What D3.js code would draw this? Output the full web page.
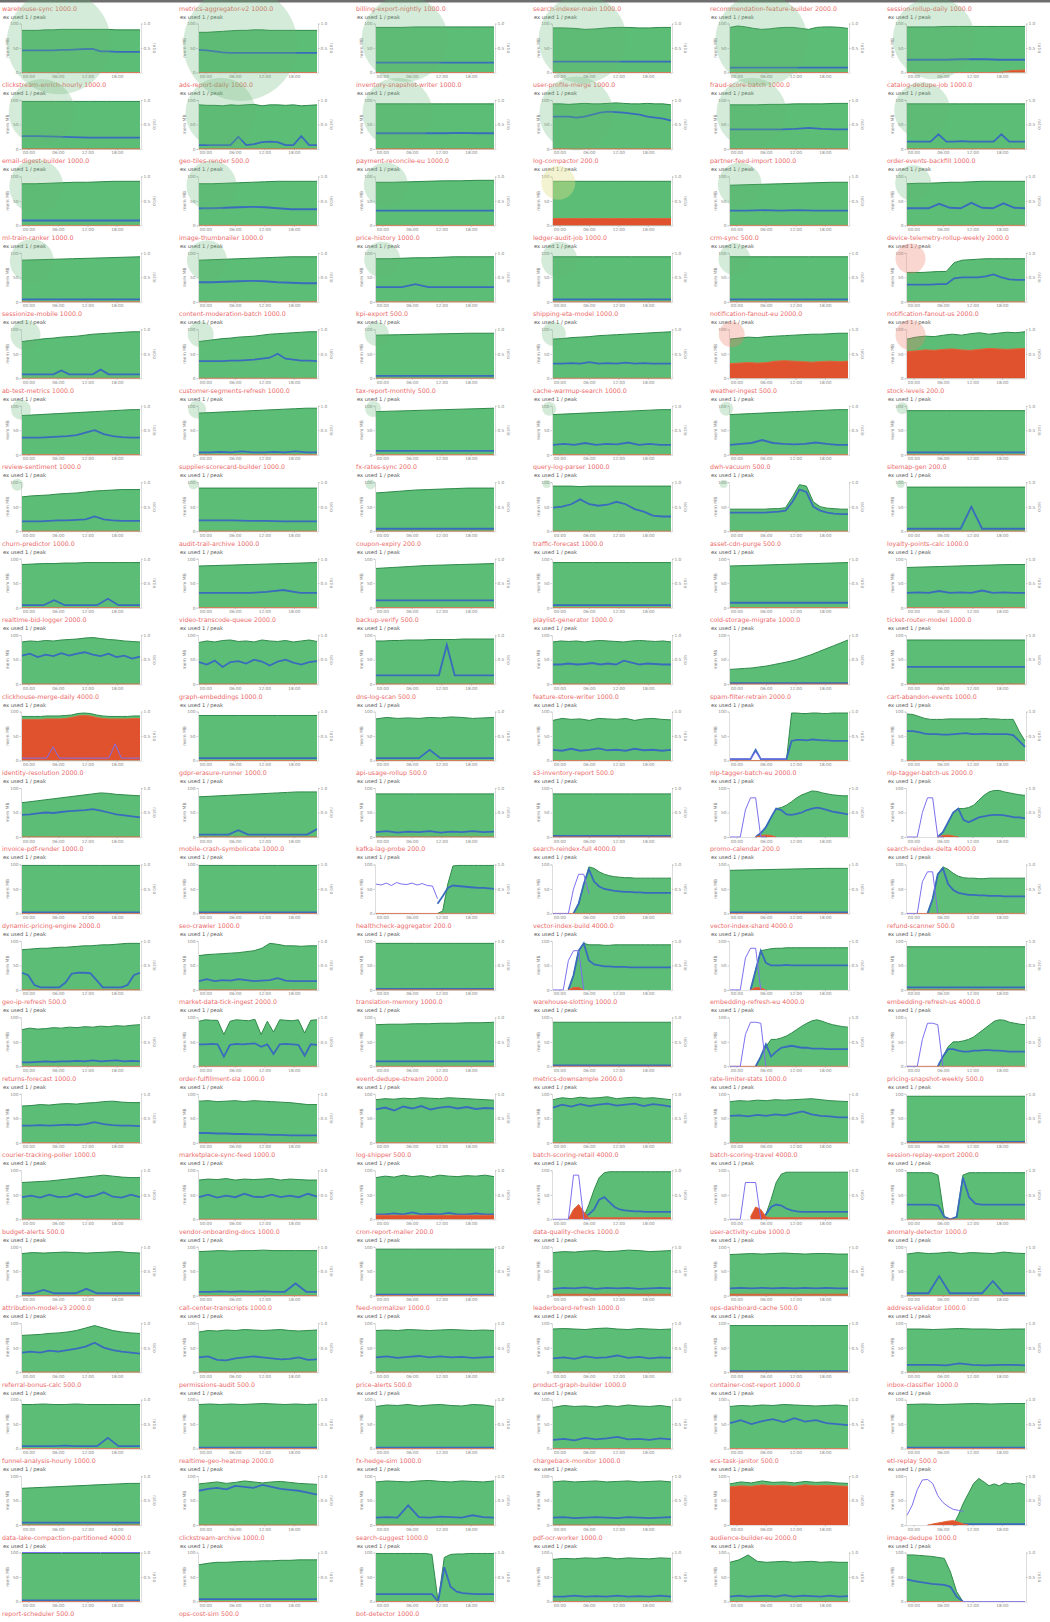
<!DOCTYPE html>
<html><head><meta charset="utf-8">
<script src="https://cdn.jsdelivr.net/npm/d3@7"></script>
<style>body{margin:0;background:#fff}svg{display:block}</style>
</head><body><svg id="c" width="1050" height="1622"></svg>
<script>
const titles = [
"warehouse-sync 1000.0","metrics-aggregator-v2 1000.0","billing-export-nightly 1000.0","search-indexer-main 1000.0","recommendation-feature-builder 2000.0","session-rollup-daily 1000.0",
"clickstream-enrich-hourly 1000.0","ads-report-daily 1000.0","inventory-snapshot-writer 1000.0","user-profile-merge 1000.0","fraud-score-batch 1000.0","catalog-dedupe-job 1000.0",
"email-digest-builder 1000.0","geo-tiles-render 500.0","payment-reconcile-eu 1000.0","log-compactor 200.0","partner-feed-import 1000.0","order-events-backfill 1000.0",
"ml-train-ranker 1000.0","image-thumbnailer 1000.0","price-history 1000.0","ledger-audit-job 1000.0","crm-sync 500.0","device-telemetry-rollup-weekly 2000.0",
"sessionize-mobile 1000.0","content-moderation-batch 1000.0","kpi-export 500.0","shipping-eta-model 1000.0","notification-fanout-eu 2000.0","notification-fanout-us 2000.0",
"ab-test-metrics 1000.0","customer-segments-refresh 1000.0","tax-report-monthly 500.0","cache-warmup-search 1000.0","weather-ingest 500.0","stock-levels 200.0",
"review-sentiment 1000.0","supplier-scorecard-builder 1000.0","fx-rates-sync 200.0","query-log-parser 1000.0","dwh-vacuum 500.0","sitemap-gen 200.0",
"churn-predictor 1000.0","audit-trail-archive 1000.0","coupon-expiry 200.0","traffic-forecast 1000.0","asset-cdn-purge 500.0","loyalty-points-calc 1000.0",
"realtime-bid-logger 2000.0","video-transcode-queue 2000.0","backup-verify 500.0","playlist-generator 1000.0","cold-storage-migrate 1000.0","ticket-router-model 1000.0",
"clickhouse-merge-daily 4000.0","graph-embeddings 1000.0","dns-log-scan 500.0","feature-store-writer 1000.0","spam-filter-retrain 2000.0","cart-abandon-events 1000.0",
"identity-resolution 2000.0","gdpr-erasure-runner 1000.0","api-usage-rollup 500.0","s3-inventory-report 500.0","nlp-tagger-batch-eu 2000.0","nlp-tagger-batch-us 2000.0",
"invoice-pdf-render 1000.0","mobile-crash-symbolicate 1000.0","kafka-lag-probe 200.0","search-reindex-full 4000.0","promo-calendar 200.0","search-reindex-delta 4000.0",
"dynamic-pricing-engine 2000.0","seo-crawler 1000.0","healthcheck-aggregator 200.0","vector-index-build 4000.0","vector-index-shard 4000.0","refund-scanner 500.0",
"geo-ip-refresh 500.0","market-data-tick-ingest 2000.0","translation-memory 1000.0","warehouse-slotting 1000.0","embedding-refresh-eu 4000.0","embedding-refresh-us 4000.0",
"returns-forecast 1000.0","order-fulfillment-sla 1000.0","event-dedupe-stream 2000.0","metrics-downsample 2000.0","rate-limiter-stats 1000.0","pricing-snapshot-weekly 500.0",
"courier-tracking-poller 1000.0","marketplace-sync-feed 1000.0","log-shipper 500.0","batch-scoring-retail 4000.0","batch-scoring-travel 4000.0","session-replay-export 2000.0",
"budget-alerts 500.0","vendor-onboarding-docs 1000.0","cron-report-mailer 200.0","data-quality-checks 1000.0","user-activity-cube 1000.0","anomaly-detector 1000.0",
"attribution-model-v3 2000.0","call-center-transcripts 1000.0","feed-normalizer 1000.0","leaderboard-refresh 1000.0","ops-dashboard-cache 500.0","address-validator 1000.0",
"referral-bonus-calc 500.0","permissions-audit 500.0","price-alerts 500.0","product-graph-builder 1000.0","container-cost-report 1000.0","inbox-classifier 1000.0",
"funnel-analysis-hourly 1000.0","realtime-geo-heatmap 2000.0","fx-hedge-sim 1000.0","chargeback-monitor 1000.0","ecs-task-janitor 500.0","etl-replay 500.0",
"data-lake-compaction-partitioned 4000.0","clickstream-archive 1000.0","search-suggest 1000.0","pdf-ocr-worker 1000.0","audience-builder-eu 2000.0","image-dedupe 1000.0",
"report-scheduler 500.0","ops-cost-sim 500.0","bot-detector 1000.0"
];
const subtitle = "ex used 1 / peak";
const timeTickHours = [0, 6, 12, 18];
const timeTickLabels = ["00:00", "06:00", "12:00", "18:00"];
const seriesStartHour = -1.3, seriesEndHour = 22.7;
const leftAxisLabel = "mem MB", rightAxisLabel = "ratio";

const _ = null;
// green: allocated (percent of panel max)
const greens = [
// row 1
[86,86,86,87,87,88,88,88,88,88,88,88,87,87,87,87],[82,82,83,84,85,86,86,87,87,86,86,86,86,86,86,86],[92,92,92,93,93,93,93,93,93,93],[91,91,90,88,89,91,92,92,91,91,92,92],[92,95,93,90,88,89,91,92,92,90,88,92,93,93,92,90],[93,93,93,94,94,94,94,94,94,94],
// row 2
[97,97,97,97,97,97,97,97],[90,89,89,88,90,89,90,91,88,90,90,89,90,88,89,90],[92,92,92,92,92,92,92,92],[92,92,91,92,93,92,92,93,94,93,92,92,93,92,92,90],[90,90,90,91,91,92,92,92,93,93],[92,92,92,92,92,92,92,92,92,92],
// row 3
[85,85,86,87,88,88,89,90,90,90],[85,85,86,87,88,89,90,90,90,90],[88,88,89,90,91,91,92,92],[90,90,90,90,90,90,90,90],[82,83,84,85,86,87,88,88],[85,86,86,87,88,88,89,90,90,90,90,90],
// row 4
[85,86,87,88,89,90,91,92],[85,86,87,88,89,90,91,92,92,92],[88,88,89,90,90,91,92,92,92,92],[92,92,92,92],[92,92,92,92],[60,60,60,61,62,62,80,85,86,87,88,88,88,88,88,88],
// row 5
[75,77,79,81,82,84,85,86,88,90,91,92,93,94,95,95],[75,77,79,81,82,84,85,86,88,90,91,92,93,94,95,95],[88,89,90,91,92,92],[80,81,83,84,85,87,88,89,90,91,92,93,94,95],[80,82,84,83,85,86,87,88,89,90,90,91,92,92],[80,84,86,85,88,90,88,91,93,90,92,94,93,95],
// row 6
[80,81,82,83,84,85,86,87,88,89,90,91,92,92],[85,86,87,88,89,90,91,92,93,94,95,95],[88,89,90,91,92,93,94,95],[82,83,84,85,86,87,88,89,90,91,92,92],[82,83,84,85,86,87,88,89,90,91,92,92],[90,90,90,90],
// row 7
[70,72,73,74,76,77,78,80,82,83,84,85,85,85],[88,88,88,88,88,88,88,88],[78,80,82,84,85,86,87,88,88,88],[92,92,92,91,92,92,92,92,92,92,92,92,92,92],[45,45,45,45,45,45,46,46,48,70,95,92,60,50,47,46,45,45],[90,90,90,90,90,90,90,90,90,90,90,90],
// row 8
[88,89,90,90,91,91,92,92,92,92,92,92],[85,86,87,88,89,90,91,92],[80,82,84,86,87,88,89,90],[92,92,92,92],[85,86,87,88,89,90,91,92],[82,83,84,85,86,87,88,88],
// row 9
[86,88,87,89,88,90,91,92,94,95,93,91,90,88,87,86],[85,88,86,89,90,87,88,86,90,88,87,89,86,88,90,87],[88,88,89,89,90,90,90,91,91,91,91,92,92,92,92,92],[86,88,87,88,86,88,89,88,87,86,88,89,88,87,88,86],[30,31,32,33,35,37,40,43,46,50,55,60,66,72,78,84,90],[90,90,90,90],
// row 10
[90,90,90,90,91,91,91,92,93,96,97,96,93,91,90,90,90,90,91,91],[92,92,92,92],[85,88,86,87,86,88,87,89,88,86,87,88],[82,86,84,85,82,86,85,84,86,82,85,86,84,83],[_,_,_,_,_,_,_,_,_,_,_,0,97,97,96,96,97,97,96,96,97,97,97,97],[95,94,90,86,84,84,84,85,85,85,85,85,85,86,85,85,84,84,84,60,40],
// row 11
[70,72,74,76,78,80,82,84,86,88,90,89,87,86,85,84],[82,83,84,85,86,87,88,89,90,91,92,92,92],[88,88,88,88],[88,88,88,88],[_,_,_,_,_,0,8,20,40,58,60,65,72,80,86,90,94,93,90,88,86,85,84,84],[_,_,_,_,_,_,0,10,30,50,58,58,60,65,75,85,92,95,95,92,90,88,86,85],
// row 12
[98,98,98,98],[98,98,98,98],[_,_,_,_,_,_,_,_,_,_,_,_,0,5,60,97,98,98,98,98,98,98,98,98],[_,_,_,_,0,20,60,95,92,85,80,77,75,74,73,73,72,72,72,72,72,72,72,72],[88,89,90,91,92,92],[_,_,_,_,0,30,80,95,90,82,76,73,72,72,71,71,72,72,72,72,72,72,72,72],
// row 13
[82,83,84,85,85,86,87,87,88,89,90,90,91,92,92,93,94,95,95,95],[70,72,73,74,75,76,78,80,85,95,93,90,90,89,90,90],[95,95,95,95],[_,_,_,0,30,80,95,92,92,92,91,91,92,92,92,92,92,92,92,92,92,92,92,92],[_,_,_,_,0,40,80,82,84,85,85,86,86,86,86,86,86,86,86,86,86,86,86,86],[88,88,88,88],
// row 14
[75,78,76,77,79,78,80,79,81,80,82,81,83,82,84,85],[92,95,94,94,65,92,95,94,93,96,65,92,70,95,94,93,95,68,94,95],[85,86,86,87,87,88,88,89,89,90],[90,90,90,90],[_,_,_,_,_,0,20,40,55,55,58,62,68,75,82,88,93,95,92,88,85,83,81,80],[_,_,_,_,_,_,0,20,40,50,50,52,55,60,68,76,84,92,95,94,90,88,86,85],
// row 15
[75,76,78,77,79,80,79,81,82,84,85,83,82,82],[85,86,84,85,86,84,86,85,84,83,82,80,78,78],[88,90,89,91,90,92,91,90,92,91,90,89,88,87],[88,92,90,93,91,92,94,90,92,93,91,92,90,88],[84,86,85,87,86,88,87,88,89,90,88,86,85,84],[95,95,95,95],
// row 16
[75,76,77,78,80,82,84,86,88,90,88,86,85,85],[80,82,81,83,80,82,81,82,83,80,82,81,80,80],[85,88,86,90,87,89,86,90,88,87,89,88,90,87],[_,_,_,_,_,_,5,30,60,85,95,97,97,97,97,97,97,97,97,97,97,97,97,97],[_,_,_,_,_,_,0,10,40,75,92,96,96,96,96,96,96,96,96,96,96,96,96,96],[95,95,95,95,95,90,5,0,5,90,95,95,95,95,95,95,95,95,95,95],
// row 17
[86,88,87,88,89,88,87,88,89,90,88,87],[90,91,92,91,92,92,93,92,92,92,92,92],[95,95,95,95],[88,90,89,91,92,90,91,93,92,90,91,92],[84,85,86,85,86,87,86,85,86,86,85,85],[85,88,86,87,89,86,88,87,86,89,87,86],
// row 18
[75,76,77,79,80,82,85,90,95,90,85,82,80,79],[82,85,84,86,85,87,86,85,86,87,85,84,85,86],[85,86,85,87,86,85,86,87,86,85,86,85],[88,89,88,87,89,90,88,87,89,88,87,88],[95,95,95,95],[88,88,87,88,89,88,88,87,88,88],
// row 19
[90,90,91,90,90,91,90,90,90,90,90,90],[90,91,90,91,90,91,92,91,90,91,90,91],[86,89,88,90,87,89,90,88,87,90,89,86],[84,88,86,87,85,88,86,89,87,86,88,85],[86,88,87,89,88,90,89,88,87,88,89,87],[90,91,90,91,92,91,92,92],
// row 20
[75,76,77,78,79,80,81,82,83,84,85,85],[84,86,88,85,87,90,88,86,88,89,87,85,84,83],[88,90,89,88,90,91,89,88,90,89,88,90],[88,90,88,89,90,88,89,90,88,89,90,88],[84,88,86,90,87,88,86,89,87,88,86,85],[_,_,_,_,_,_,_,_,_,0,20,45,65,85,95,88,80,84,80,86,84,85,86,82],
// row 21
[98,98,98,98],[75,78,80,80,81,82,82,83,83,84,84,85,85,85],[98,98,98,98,98,98,98,98,98,96,0,90,96,97,97,98,98,98,98,98],[86,88,87,89,88,90,87,89,88,87,89,88],[80,85,95,82,80,81,82,80,81,82,80,81,80,80],[95,95,94,93,92,90,88,60,20,0,_,_,_,_,_,_,_,_,_,_]
];
// blue: used
const blues = [
// row 1
[45,45,45,45,45,46,46,47,48,48,43,43,42,42,42,42],[46,45,43,41,40,40,40,40,40,40,40,40,40,40,40,40],[20,20,20,20,20,20,20,20,20,20],[22,22,22,22,22,22,22,22,22,22,22,22],[10,10,10,10,10,10,10,10,10,10,10,10],[26,26,26,26,27,27,27,26,26,26],
// row 2
[26,26,25,24,23,23,23,23],[8,8,8,8,8,25,8,10,14,15,14,8,8,26,8,8],[32,32,32,32,32,33,32,32],[66,66,66,64,66,70,74,76,75,74,72,70,66,64,62,58],[40,40,40,40,40,41,43,41,40,40],[15,15,15,15,30,15,15,16,15,15,15,15,30,15,15,15],
// row 3
[10,10,10,10,10,10,10,10,10,10],[35,35,36,37,38,37,35,33,33,33],[30,30,30,30,30,30,30,30],[13,13,13,13,13,13,13,13],[30,30,31,30,31,30,30,30],[35,35,35,44,36,35,46,36,35,45,36,35],
// row 4
[5,5,5,5,5,5,5,5],[40,40,41,42,43,42,40,39,38,38],[30,30,30,36,30,30,30,30,30,30],[5,5,5,5],[5,5,5,5],[35,35,35,35,36,36,48,50,50,50,52,56,50,46,45,45],
// row 5
[8,8,8,8,8,16,8,8,8,8,18,8,8,8,8,8],[35,35,35,35,36,36,37,38,40,42,50,40,38,36,36,35],[5,5,5,5,5,5],[30,30,31,30,33,30,31,30,32,30,31,30,30,30],[4,4,4,4],[4,4,4,4],
// row 6
[35,35,35,36,37,38,40,45,50,42,38,36,35,35],[5,5,6,5,7,5,5,6,5,7,5,5],[8,8,8,8,8,8,8,8],[20,22,20,24,20,22,21,25,20,22,20,20],[20,22,24,30,24,22,21,22,25,22,20,20],[5,5,5,5],
// row 7
[20,20,20,21,22,22,23,24,30,24,22,21,21,21],[22,22,22,21,21,20,20,20],[5,5,5,5,5,5,5,5,5,5],[48,50,55,65,55,52,54,60,55,45,40,32,30,30],[38,38,38,38,38,38,39,40,42,60,85,80,50,42,38,36,35,35],[5,5,5,5,5,5,50,5,5,5,5,5],
// row 8
[5,5,5,15,5,5,5,5,18,5,5,5],[30,30,30,30,32,36,30,30],[15,15,15,15,15,15,15,15],[5,5,5,5],[10,10,10,10,10,10,10,10],[30,31,30,34,30,31,30,35,30,31,30,30],
// row 9
[58,62,55,60,57,63,58,62,65,60,57,62,55,58,52,56],[45,40,48,35,45,47,42,50,46,38,46,50,44,40,45,47],[18,18,18,18,18,18,18,18,18,80,18,18,18,18,18,18],[40,40,42,40,41,43,40,42,40,48,44,40,42,41,40,40],[2,2,2,2],[35,35,35,35],
// row 10
[3,3,3,3],[5,5,5,5],[5,5,5,5,5,22,5,5,5,5,5,5],[22,20,24,20,22,25,21,22,20,24,21,22,20,22],[3,3,3,3,3,22,3,3,3,3,3,3,40,42,42,41,43,42,41,41,40,40,40,40],[60,60,58,55,54,54,53,53,54,55,56,54,54,55,54,54,54,54,52,40,28],
// row 11
[45,46,48,50,49,51,53,54,55,57,54,50,46,44,42,40],[5,5,5,5,14,5,5,5,5,5,5,5,16],[10,12,9,11,10,12,9,11,10,12,10,11],[2,2,2,2],[_,_,_,_,_,0,8,20,40,58,55,46,45,47,50,55,58,60,58,55,52,50,48,46],[_,_,_,_,_,_,0,10,30,50,58,35,30,35,40,42,44,45,45,44,42,40,40,38],
// row 12
[2,2,2,2],[2,2,2,2],[_,_,_,_,_,_,_,_,_,_,_,_,20,35,52,57,56,55,54,53,52,52,51,50],[_,_,_,_,0,20,60,90,65,55,50,48,46,45,44,44,43,43,42,42,42,42,42,42],[2,2,2,2],[_,_,_,_,0,30,80,92,60,48,42,40,38,38,37,37,36,36,36,35,35,35,35,35],
// row 13
[35,30,10,5,5,5,5,15,33,35,35,34,20,5,5,5,5,10,30,35],[18,22,18,20,19,22,20,18,19,20,24,19,18,18,18,18],[2,2,2,2],[_,_,_,0,30,80,95,60,52,50,48,48,47,47,47,46,46,46,46,46,46,46,46,46],[_,_,_,_,0,40,80,55,50,50,50,51,50,50,50,50,50,50,50,50,50,50,50,50],[5,5,5,5],
// row 14
[8,8,9,10,9,10,10,11,10,12,10,11,12,10,11,10],[45,45,46,45,20,44,46,45,46,47,40,45,25,45,46,45,44,22,45,44],[10,10,10,10],[2,2,2,2],[_,_,_,_,_,0,20,45,20,30,38,40,42,40,38,38,36,36,36,35,35,35,35,35],[_,_,_,_,_,_,0,20,35,35,32,30,30,32,32,33,33,32,32,31,30,30,30,30],
// row 15
[35,35,36,35,36,37,36,38,42,38,36,35,35,34],[20,20,19,19,18,18,17,17,16,16,15,15,15,15],[68,72,66,74,70,75,68,72,74,70,73,69,71,70],[72,78,74,79,75,78,80,76,78,80,75,79,77,74],[55,56,54,57,55,58,56,60,64,58,55,54,52,52],[2,2,2,2],
// row 16
[45,48,44,50,45,46,52,45,48,55,46,44,50,45],[45,50,44,48,45,52,46,45,50,45,48,45,52,46],[10,10,12,10,14,10,11,10,13,10,10,12,10,10],[_,_,_,_,_,_,5,10,20,40,45,35,25,20,18,17,16,16,15,15,15,15,15,15],[_,_,_,_,_,_,0,10,25,30,28,22,18,16,15,15,15,15,15,15,15,15,15,15],[30,30,30,30,30,28,5,0,5,85,45,32,30,30,30,30,30,30,30,30],
// row 17
[5,5,12,5,5,5,14,5,5,5,5,5],[8,8,9,8,9,8,9,8,8,25,8,8],[2,2,2,2],[14,16,15,17,14,16,15,16,14,15,16,15],[15,16,15,16,15,16,15,16,15,16,15,15],[5,5,5,40,5,5,5,5,30,5,5,5],
// row 18
[40,42,40,44,42,45,48,52,60,50,45,42,40,38],[30,32,25,24,28,30,32,30,28,26,27,30,25,26],[30,32,29,31,33,30,32,30,31,29,30,31],[28,30,27,32,29,30,34,29,31,28,30,29],[2,2,2,2],[15,15,15,14,18,15,14,15,15,14],
// row 19
[5,5,5,5,6,5,5,5,22,5,5,5],[2,2,2,2],[2,2,2,2],[18,20,17,22,19,21,24,19,20,18,21,19],[52,58,50,56,60,54,62,55,58,52,50,48],[2,2,2,2],
// row 20
[5,5,5,5],[70,74,76,73,80,78,76,82,78,74,72,70,66,62],[15,16,15,40,16,15,17,16,15,20,16,15],[15,16,14,15,16,15,14,16,15,14,15,16],[3,3,3,3],[_,_,_,_,_,_,_,_,_,0,2,2,2,2,2,2,2,2,2,2,2,2,2,2],
// row 21
[2,2,2,2],[5,5,5,5],[15,15,15,15,15,15,15,15,15,15,0,70,30,20,17,16,15,15,15,15],[10,10,12,10,11,10,12,10,11,10,12,10],[10,12,10,11,12,10,13,10,12,11,10,12,10,11],[45,42,40,38,36,35,34,30,10,0,_,_,_,_,_,_,_,_,_,_]
];
// red: over-limit / throttled area (only panels where it rises above zero)
const reds = {
5:[0,0,0,0,0,0,0,0,4,5],
15:[14,14,14,14,14,14,14,14],
28:[30,31,32,31,32,35,36,35,34,33,34,35,34,35],
29:[55,56,58,57,59,60,58,57,59,61,60,59,60,61],
54:[84,84,84,84,85,85,85,86,88,91,92,91,88,86,85,85,85,85,86,86],
64:[_,_,_,_,_,0,3,4,3,0,_,_,_,_,_,_,_,_,_,_,_,_,_,_],
65:[_,_,_,_,_,_,0,3,4,2,0,_,_,_,_,_,_,_,_,_,_,_,_,_],
75:[_,_,_,0,5,5,0,_,_,_,_,_,_,_,_,_,_,_,_,_,_,_,_,_],
76:[_,_,_,_,0,5,4,0,_,_,_,_,_,_,_,_,_,_,_,_,_,_,_,_],
92:[8,8,8,8,8,8,8,8],
93:[_,_,_,0,20,30,15,3,3,3,3,3,3,3,3,3,3,3,3,3,3,3,3,3],
94:[_,_,_,_,5,25,20,5,3,3,3,3,3,3,3,3,3,3,3,3,3,3,3,3],
99:[3,3,3,3],
100:[3,3,3,3],
118:[78,80,79,82,80,81,79,82,80,81,80,79],
119:[_,_,_,_,0,2,4,6,8,9,6,2,0,_,_,_,_,_,_,_,_,_,_,_]
};
// purple: requested / pending
const purples = {
54:[5,5,5,5,5,28,5,5,5,5,5,5,5,5,5,34,5,5,5,5],
58:[3,3,3,3,3,18,3,3,3,3,3,3,_,_,_,_,_,_,_,_,_,_,_,_],
64:[0,0,0,55,80,80,0,0,_,_,_,_,_,_,_,_,_,_,_,_,_,_,_,_],
65:[0,0,0,50,80,80,0,0,_,_,_,_,_,_,_,_,_,_,_,_,_,_,_,_],
68:[60,58,62,57,63,60,59,62,58,61,57,56,30,_,_,_,_,_,_,_,_,_,_,_],
69:[0,0,0,0,50,80,80,40,_,_,_,_,_,_,_,_,_,_,_,_,_,_,_,_],
71:[0,0,0,65,85,85,0,_,_,_,_,_,_,_,_,_,_,_,_,_,_,_,_,_],
75:[0,0,0,60,80,80,0,_,_,_,_,_,_,_,_,_,_,_,_,_,_,_,_,_],
76:[0,0,0,65,85,85,0,_,_,_,_,_,_,_,_,_,_,_,_,_,_,_,_,_],
82:[0,0,0,65,90,90,88,0,_,_,_,_,_,_,_,_,_,_,_,_,_,_,_,_],
83:[0,0,0,55,88,88,85,0,_,_,_,_,_,_,_,_,_,_,_,_,_,_,_,_],
93:[0,0,0,0,90,90,0,0,_,_,_,_,_,_,_,_,_,_,_,_,_,_,_,_],
94:[0,0,0,75,75,75,0,_,_,_,_,_,_,_,_,_,_,_,_,_,_,_,_,_],
119:[20,40,72,92,93,85,60,46,38,32,30,28,_,_,_,_,_,_,_,_,_,_,_,_],
120:[100,100,100,100],
125:[_,_,_,_,_,_,_,_,_,0,0,0,0,0,0,0,0,0,0,0]
};
// bubble size per panel (0 = none) and tone
const circleR = [
52,57,43,44,46,41, 33,35,35,37,35,28, 27,25,22,17,22,18, 22,20,18,18,16,15,
15,13,12,12,13,15, 10,9,8,7,7,6, 6,5,5,4,4,4
];
const circleTone = {15:"warn", 23:"alert", 28:"alert", 29:"alert"};

// ---------- drawing ----------
const svg = d3.select("#c");
svg.append("rect").attr("x",0).attr("y",0).attr("width",1050).attr("height",2.5).attr("fill","#6e6e6e");
const colW = 177, rowH = 76.45, font = "DejaVu Sans, sans-serif";
const panelsLayer = svg.append("g");
const bubbleLayer = svg.append("g");
const toneFill = {ok:"rgba(100,180,115,0.27)", warn:"rgba(225,225,140,0.4)", alert:"rgba(235,130,110,0.32)"};

titles.forEach((t, k) => {
  const col = k % 6, row = Math.floor(k / 6);
  const L = col * colW, T = row * rowH;
  const g = panelsLayer.append("g");
  g.append("text").attr("x", L + 2).attr("y", T + 10.5).attr("font-family", font).attr("font-size", 6.3)
    .attr("fill", "#ec6a6a").text(t);
  if (k >= greens.length) return;
  g.append("text").attr("x", L + 3).attr("y", T + 18.5).attr("font-family", font).attr("font-size", 5.2)
    .attr("fill", "#555").text(subtitle);

  const x = d3.scaleLinear().domain([seriesStartHour, seriesEndHour]).range([L + 22, L + 140]);
  const y = d3.scaleLinear().domain([0, 100]).range([T + 72.5, T + 23.5]);
  const yr = d3.scaleLinear().domain([0, 1]).range([T + 72.5, T + 23.5]);
  const px = (arr) => (d, i) => x(seriesStartHour + (seriesEndHour - seriesStartHour) * i / (arr.length - 1));

  const gr = greens[k];
  g.append("path").datum(gr).attr("fill", "#5cbd76")
    .attr("d", d3.area().defined(d => d != null).x(px(gr)).y0(y(0)).y1(d => y(d)));
  g.append("path").datum(gr).attr("fill", "none").attr("stroke", "#2f8a4a").attr("stroke-width", 1)
    .attr("d", d3.line().defined(d => d != null).x(px(gr)).y(d => y(d)));

  const bl = blues[k];
  g.append("path").datum(bl).attr("fill", "none").attr("stroke", "#3a6cbd").attr("stroke-width", 1.8)
    .attr("d", d3.line().defined(d => d != null).x(px(bl)).y(d => y(d)));

  const rd = reds[k] || [0, 0];
  g.append("path").datum(rd).attr("fill", "#e0522d")
    .attr("d", d3.area().defined(d => d != null).x(px(rd)).y0(y(0)).y1(d => y(d)));
  g.append("path").datum(rd).attr("fill", "none").attr("stroke", "#e0663a").attr("stroke-width", 1)
    .attr("d", d3.line().defined(d => d != null).x(px(rd)).y(d => y(d)));

  if (purples[k]) {
    const pu = purples[k];
    g.append("path").datum(pu).attr("fill", "none").attr("stroke", "#7d70f0").attr("stroke-width", 1)
      .attr("d", d3.line().defined(d => d != null).x(px(pu)).y(d => y(d)));
  }

  // axes
  const xa = g.append("g").attr("transform", `translate(0,${T + 72.5})`)
    .call(d3.axisBottom(x).tickValues(timeTickHours).tickFormat((d, i) => timeTickLabels[i]).tickSize(1.5).tickPadding(1));
  const ya = g.append("g").attr("transform", `translate(${L + 21},0)`)
    .call(d3.axisLeft(y).ticks(2).tickSize(1.5).tickPadding(1));
  const ra = g.append("g").attr("transform", `translate(${L + 141},0)`)
    .call(d3.axisRight(yr).tickValues([0.5, 1]).tickSize(1.5).tickPadding(1));
  [xa, ya, ra].forEach(a => {
    a.selectAll("path").attr("stroke", "#bbb").attr("stroke-width", 0.5);
    a.selectAll("line").attr("stroke", "#999").attr("stroke-width", 0.5);
    a.selectAll("text").attr("font-size", 4.3).attr("font-family", font).attr("fill", "#888");
  });
  g.append("text").attr("transform", `translate(${L + 9},${T + 48}) rotate(-90)`).attr("text-anchor", "middle")
    .attr("font-family", font).attr("font-size", 4.5).attr("fill", "#888").text(leftAxisLabel);
  g.append("text").attr("transform", `translate(${L + 153},${T + 48}) rotate(90)`).attr("text-anchor", "middle")
    .attr("font-family", font).attr("font-size", 4.5).attr("fill", "#888").text(rightAxisLabel);

  const r = circleR[k] || 0;
  if (r > 0) {
    bubbleLayer.append("circle").attr("cx", L + 12 + 0.9 * r).attr("cy", T + 24 + 0.35 * r).attr("r", r)
      .attr("fill", toneFill[circleTone[k] || "ok"]);
  }
});
</script></body></html>
